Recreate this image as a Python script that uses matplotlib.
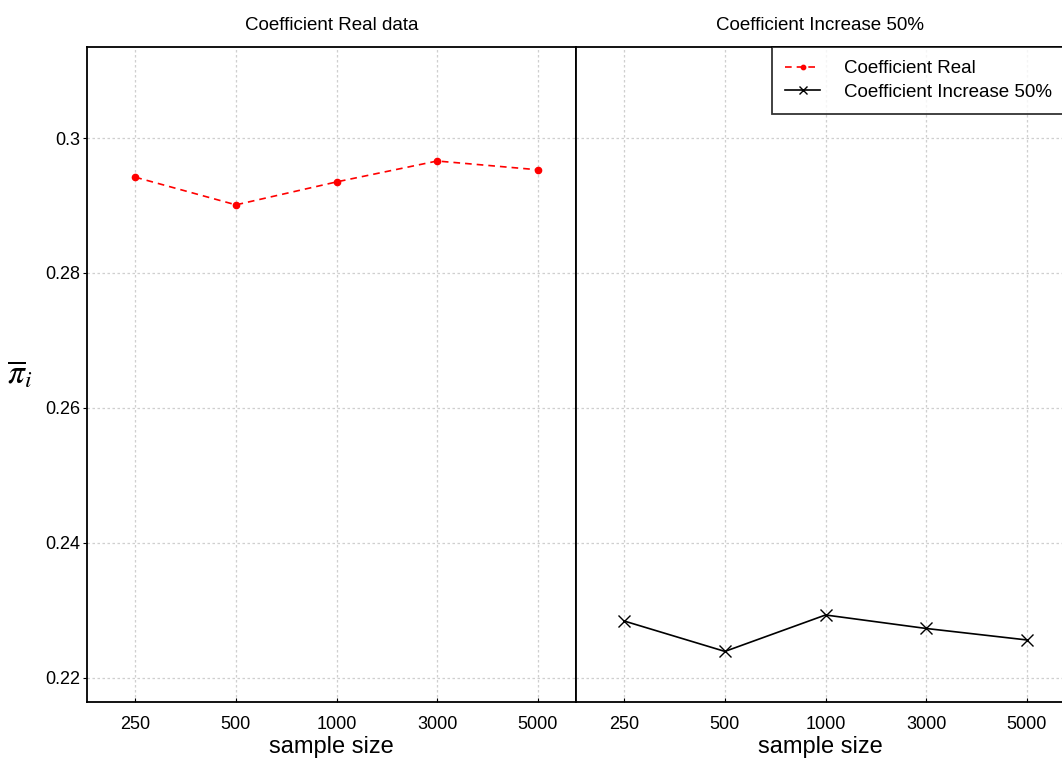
import matplotlib.pyplot as plt
import numpy as np

plt.rcParams['font.family'] = ['Liberation Sans', 'DejaVu Sans']

# sample sizes and mean coefficient estimates
sizes = ["250", "500", "1000", "3000", "5000"]
coef_real = [0.2942, 0.2901, 0.2935, 0.2966, 0.2953]
coef_inc50 = [0.2284, 0.2239, 0.2293, 0.2273, 0.2256]
yticks = [0.22, 0.24, 0.26, 0.28, 0.30]
ytick_labels = ["0.22", "0.24", "0.26", "0.28", "0.3"]

fig = plt.figure(figsize=(10.62, 7.63), dpi=100)
W, H = 1062, 763
# panels in pixel units: left, bottom, width, height
ax1 = fig.add_axes([87 / W, (H - 702) / H, 489 / W, 655 / H])
ax2 = fig.add_axes([576 / W, (H - 702) / H, 489 / W, 655 / H], sharey=ax1)

x = np.arange(len(sizes))

def style(ax, title):
    ax.set_xlim(-0.48, 4.38)
    ax.set_ylim(0.2164, 0.3135)
    ax.set_xticks(x)
    ax.set_xticklabels(sizes, fontsize=13)
    ax.set_yticks(yticks)
    ax.grid(True, color="#cfcfcf", linestyle=(0, (2, 2)), linewidth=0.9)
    ax.set_axisbelow(True)
    for s in ax.spines.values():
        s.set_linewidth(1.3)
        s.set_color("black")
    ax.tick_params(axis="x", direction="in", length=3, pad=10)
    ax.set_xlabel("sample size", fontsize=17, labelpad=2)
    ax.set_title(title, fontsize=13.5, pad=12)

style(ax1, "Coefficient Real data")
style(ax2, "Coefficient Increase 50%")

ax1.set_yticklabels(ytick_labels, fontsize=13)
ax1.tick_params(axis="y", direction="out", length=3, pad=2)
ax2.tick_params(axis="y", left=False, labelleft=False)

l1, = ax1.plot(x, coef_real, color="red", linestyle=(0, (4, 3)), linewidth=1.2,
               marker="o", markersize=4.5, markerfacecolor="red",
               markeredgecolor="red")
l2, = ax2.plot(x, coef_inc50, color="black", linestyle="-", linewidth=1.2,
               marker="x", markersize=9, markeredgewidth=1.0)

ax1.set_ylabel(r"$\overline{\pi}_i$", fontsize=24, rotation=0,
               math_fontfamily="stix", labelpad=18, va="center")

leg = ax2.legend([l1, l2], ["Coefficient Real", "Coefficient Increase 50%"],
                 loc="upper right", fontsize=13.5, frameon=True, fancybox=False,
                 borderaxespad=0, handlelength=1.9, handletextpad=1.25,
                 labelspacing=0.35, borderpad=0.7, markerscale=0.7)
leg.get_frame().set_edgecolor("black")
leg.get_frame().set_linewidth(1.3)

fig.savefig("out.png", dpi=100)
